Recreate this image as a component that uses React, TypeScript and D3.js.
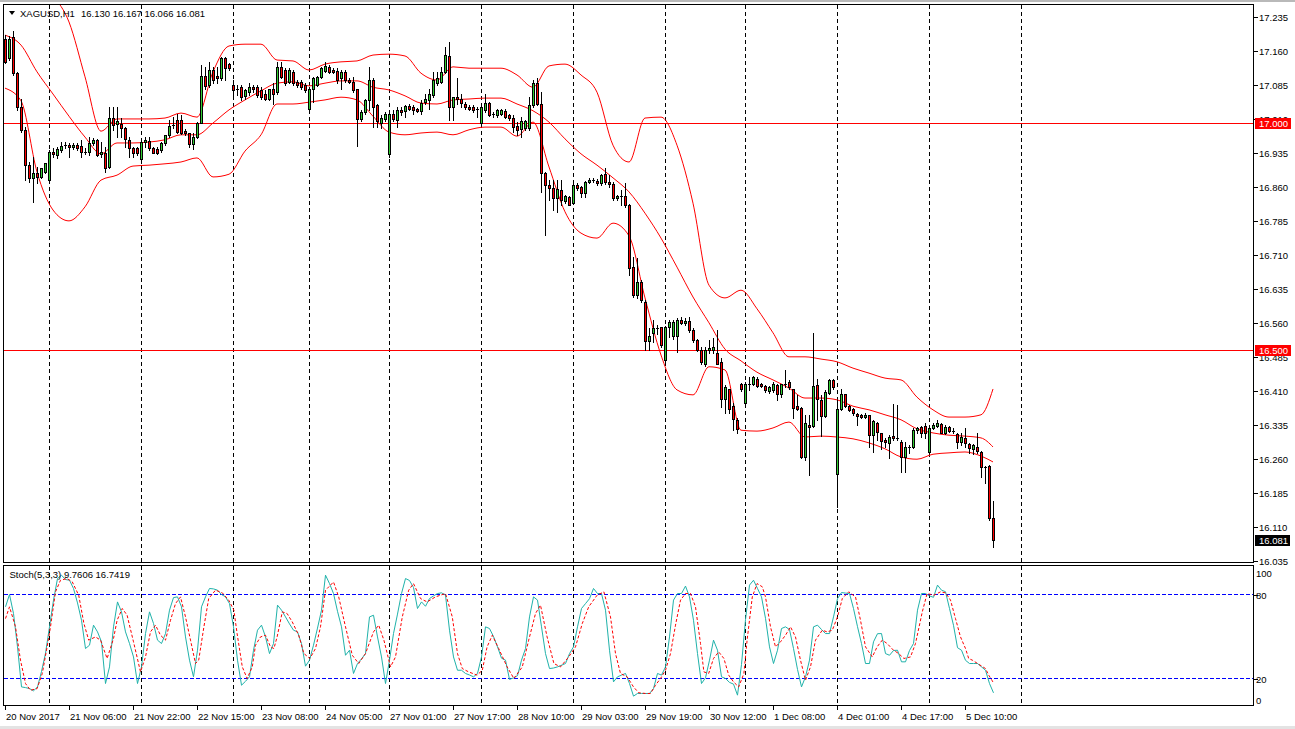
import React from 'react';
import * as d3 from 'd3';

// ---------- DATA ----------
const opens = [17.186,17.144,17.190,17.111,17.037,16.985,16.908,16.879,16.890,16.882,16.893,16.875,16.938,16.930,16.941,16.951,16.952,16.949,16.952,16.951,16.938,16.938,16.957,16.963,16.932,16.934,16.904,17.011,16.999,16.999,16.989,16.963,16.945,16.945,16.921,16.960,16.962,16.945,16.943,16.941,16.956,16.974,16.994,17.008,17.008,16.984,16.978,16.955,16.971,17.002,17.105,17.085,17.118,17.105,17.100,17.144,17.131,17.085,17.075,17.080,17.061,17.070,17.080,17.080,17.074,17.066,17.055,17.077,17.070,17.125,17.118,17.092,17.114,17.092,17.092,17.085,17.033,17.077,17.085,17.103,17.116,17.125,17.118,17.116,17.100,17.114,17.096,17.092,17.075,17.009,17.026,17.052,17.096,17.041,17.002,17.009,16.932,17.022,17.008,17.030,17.028,17.038,17.036,17.031,17.028,17.048,17.052,17.063,17.090,17.092,17.114,17.149,17.036,17.058,17.055,17.044,17.037,17.037,17.031,17.000,17.030,17.046,17.021,17.019,17.022,17.028,17.019,17.011,16.994,16.987,16.989,16.989,17.041,17.089,17.043,16.890,16.864,16.857,16.835,16.853,16.828,16.838,16.825,16.865,16.860,16.847,16.871,16.875,16.873,16.868,16.888,16.871,16.866,16.835,16.840,16.840,16.821,16.684,16.621,16.651,16.606,16.520,16.538,16.548,16.550,16.479,16.551,16.531,16.531,16.566,16.560,16.564,16.545,16.523,16.501,16.470,16.501,16.500,16.493,16.474,16.391,16.413,16.376,16.345,16.425,16.382,16.426,16.425,16.437,16.424,16.421,16.410,16.412,16.423,16.403,16.426,16.430,16.413,16.376,16.371,16.263,16.335,16.332,16.423,16.390,16.354,16.406,16.434,16.226,16.369,16.403,16.376,16.369,16.359,16.356,16.353,16.356,16.312,16.340,16.316,16.302,16.295,16.310,16.305,16.297,16.263,16.287,16.285,16.323,16.331,16.332,16.274,16.327,16.332,16.337,16.317,16.331,16.322,16.315,16.298,16.305,16.292,16.281,16.287,16.276,16.242,16.244,16.130];
const highs = [17.195,17.192,17.203,17.114,17.053,16.993,16.915,16.927,16.905,16.901,16.913,16.941,16.945,16.949,16.960,16.960,16.958,16.956,16.958,16.963,16.945,16.971,16.967,16.965,16.960,16.949,17.037,17.037,17.037,17.011,16.993,16.971,16.949,16.949,16.963,16.971,16.971,16.949,16.949,16.960,16.974,17.008,17.015,17.022,17.019,16.987,16.979,16.978,17.004,17.129,17.125,17.136,17.125,17.125,17.147,17.147,17.134,17.096,17.085,17.085,17.077,17.089,17.085,17.085,17.080,17.074,17.077,17.089,17.136,17.136,17.122,17.122,17.118,17.096,17.096,17.089,17.080,17.103,17.105,17.125,17.136,17.129,17.122,17.122,17.118,17.118,17.100,17.103,17.077,17.030,17.053,17.125,17.100,17.044,17.019,17.026,17.026,17.030,17.037,17.037,17.041,17.044,17.041,17.035,17.052,17.066,17.077,17.114,17.114,17.125,17.169,17.180,17.059,17.100,17.066,17.048,17.041,17.041,17.037,17.037,17.066,17.048,17.026,17.033,17.033,17.031,17.022,17.019,17.004,17.015,17.008,17.059,17.096,17.100,17.070,16.893,16.875,16.875,16.875,16.875,16.843,16.840,16.868,16.868,16.862,16.872,16.879,16.879,16.878,16.889,16.901,16.886,16.870,16.842,16.853,16.868,16.823,16.706,16.702,16.655,16.610,16.548,16.566,16.555,16.551,16.552,16.566,16.566,16.570,16.573,16.570,16.573,16.548,16.525,16.507,16.506,16.522,16.526,16.544,16.482,16.423,16.415,16.382,16.349,16.428,16.430,16.441,16.443,16.440,16.428,16.423,16.420,16.430,16.426,16.426,16.456,16.433,16.415,16.401,16.375,16.356,16.357,16.537,16.437,16.401,16.412,16.435,16.437,16.390,16.413,16.404,16.378,16.371,16.360,16.359,16.360,16.357,16.345,16.342,16.317,16.305,16.312,16.381,16.379,16.301,16.298,16.290,16.327,16.331,16.332,16.338,16.331,16.338,16.345,16.338,16.334,16.333,16.327,16.316,16.317,16.327,16.294,16.292,16.316,16.278,16.244,16.246,16.167];
const lows = [17.133,17.140,17.107,17.030,16.982,16.875,16.871,16.827,16.868,16.879,16.890,16.871,16.927,16.923,16.938,16.945,16.927,16.943,16.941,16.927,16.932,16.930,16.952,16.928,16.927,16.893,16.901,16.985,16.971,16.971,16.949,16.927,16.927,16.930,16.912,16.949,16.941,16.934,16.932,16.938,16.952,16.971,16.989,16.978,16.977,16.974,16.949,16.943,16.967,17.000,17.077,17.081,17.089,17.089,17.096,17.096,17.118,17.063,17.063,17.052,17.055,17.063,17.070,17.059,17.055,17.052,17.052,17.044,17.066,17.100,17.085,17.089,17.085,17.081,17.075,17.070,17.031,17.048,17.083,17.100,17.114,17.112,17.111,17.089,17.077,17.092,17.089,17.070,16.951,17.006,17.022,17.030,16.993,16.993,16.989,17.006,16.927,17.006,16.993,17.019,17.015,17.030,17.022,17.026,17.022,17.044,17.033,17.059,17.085,17.089,17.111,17.008,17.008,17.044,17.037,17.033,17.030,17.026,17.015,16.996,17.026,17.016,17.015,17.015,17.019,17.013,17.008,16.982,16.974,16.971,16.985,16.985,17.037,17.041,16.849,16.754,16.831,16.809,16.805,16.820,16.825,16.820,16.823,16.854,16.838,16.837,16.868,16.870,16.865,16.865,16.866,16.860,16.831,16.830,16.820,16.816,16.665,16.618,16.614,16.606,16.500,16.500,16.518,16.535,16.507,16.475,16.529,16.525,16.496,16.557,16.555,16.540,16.518,16.497,16.470,16.465,16.493,16.493,16.470,16.375,16.360,16.360,16.323,16.316,16.410,16.381,16.412,16.423,16.418,16.418,16.408,16.406,16.408,16.390,16.397,16.418,16.415,16.349,16.367,16.261,16.257,16.224,16.331,16.345,16.310,16.353,16.404,16.415,16.154,16.367,16.375,16.365,16.357,16.334,16.350,16.349,16.287,16.276,16.301,16.281,16.287,16.261,16.301,16.301,16.231,16.231,16.272,16.283,16.316,16.309,16.305,16.272,16.325,16.331,16.316,16.315,16.320,16.316,16.283,16.290,16.287,16.272,16.270,16.272,16.220,16.207,16.125,16.066];
const closes = [17.136,17.186,17.111,17.037,16.985,16.908,16.879,16.890,16.882,16.901,16.913,16.938,16.932,16.943,16.951,16.952,16.949,16.952,16.945,16.938,16.935,16.957,16.963,16.930,16.937,16.901,17.011,16.997,17.006,16.989,16.965,16.945,16.934,16.934,16.960,16.963,16.945,16.935,16.935,16.956,16.974,16.994,16.997,16.982,16.978,16.978,16.955,16.971,17.002,17.105,17.083,17.118,17.096,17.100,17.144,17.122,17.122,17.074,17.077,17.059,17.074,17.080,17.077,17.063,17.059,17.055,17.075,17.066,17.125,17.103,17.089,17.118,17.089,17.085,17.080,17.074,17.077,17.100,17.102,17.122,17.127,17.114,17.114,17.096,17.114,17.096,17.092,17.074,17.009,17.026,17.052,17.096,17.037,17.006,17.013,17.021,17.021,17.009,17.030,17.026,17.038,17.033,17.030,17.028,17.046,17.053,17.065,17.097,17.100,17.114,17.151,17.037,17.058,17.053,17.046,17.036,17.033,17.030,17.030,17.036,17.046,17.019,17.018,17.030,17.030,17.015,17.011,16.993,16.985,17.006,17.006,17.041,17.089,17.044,16.891,16.864,16.857,16.835,16.855,16.831,16.839,16.820,16.865,16.857,16.847,16.871,16.875,16.872,16.868,16.886,16.870,16.866,16.835,16.840,16.838,16.820,16.682,16.621,16.651,16.610,16.520,16.531,16.548,16.546,16.511,16.550,16.562,16.562,16.566,16.559,16.564,16.544,16.522,16.500,16.474,16.501,16.505,16.506,16.470,16.391,16.418,16.369,16.347,16.325,16.413,16.426,16.423,16.440,16.421,16.421,16.412,16.418,16.425,16.403,16.426,16.423,16.418,16.373,16.369,16.263,16.338,16.331,16.421,16.391,16.354,16.408,16.434,16.418,16.369,16.402,16.376,16.368,16.360,16.354,16.353,16.356,16.312,16.344,16.318,16.300,16.298,16.309,16.305,16.303,16.264,16.287,16.286,16.323,16.327,16.317,16.317,16.327,16.334,16.338,16.317,16.331,16.322,16.320,16.298,16.307,16.294,16.283,16.290,16.278,16.242,16.239,16.130,16.081];

// Bollinger Bands (20,2) at every 4th bar
const bandBars = [0,4,8,12,16,20,24,28,32,36,40,44,48,52,56,60,64,68,72,76,80,84,88,92,96,100,104,108,112,116,120,124,128,132,136,140,144,148,152,156,160,164,168,172,176,180,184,188,192,196,200,204,208,212,216,220,224,228,232,236,240,244,247];
const bandUpper = [17.312,17.295,17.334,17.284,17.224,17.103,16.983,17.010,17.010,17.010,17.012,17.023,17.014,17.114,17.171,17.175,17.175,17.140,17.138,17.118,17.131,17.136,17.138,17.151,17.153,17.149,17.111,17.096,17.125,17.122,17.122,17.122,17.107,17.080,17.127,17.131,17.107,17.069,16.952,16.915,17.012,17.014,16.952,16.824,16.643,16.615,16.632,16.591,16.538,16.485,16.485,16.480,16.474,16.460,16.449,16.438,16.434,16.396,16.368,16.352,16.352,16.357,16.414];
const bandMiddle = [17.195,17.173,17.114,17.065,17.016,16.970,16.933,16.957,16.957,16.959,16.964,16.975,16.975,17.001,17.030,17.052,17.072,17.089,17.092,17.083,17.089,17.094,17.094,17.080,17.074,17.061,17.045,17.043,17.052,17.054,17.056,17.056,17.043,17.028,17.003,16.966,16.933,16.908,16.880,16.849,16.802,16.747,16.683,16.617,16.560,16.502,16.476,16.451,16.434,16.416,16.394,16.394,16.390,16.376,16.368,16.357,16.346,16.326,16.317,16.312,16.310,16.306,16.286];
const bandLower = [17.078,17.050,16.893,16.809,16.785,16.816,16.875,16.886,16.906,16.908,16.911,16.915,16.924,16.882,16.888,16.939,16.975,17.043,17.043,17.047,17.052,17.058,17.052,17.016,16.981,16.975,16.979,16.981,16.975,16.986,16.992,16.992,16.972,17.003,16.904,16.805,16.758,16.747,16.780,16.752,16.615,16.489,16.412,16.401,16.463,16.456,16.323,16.321,16.328,16.341,16.308,16.310,16.308,16.304,16.295,16.282,16.264,16.259,16.270,16.273,16.275,16.266,16.253];

// Stochastic (5,3,3) main line, one value per bar
const stochMain = [71.2,80.0,66.4,42.6,14.0,13.5,12.8,11.2,14.0,25,38,56.9,76.0,91.4,93.8,90.7,90.2,84.3,74,61.6,41.4,43.8,58.1,53.3,46.2,16.4,28.3,56.9,74.7,67.6,53.3,45,35.4,16.4,28.3,52.1,67.6,59.3,47.4,45.0,52.1,68.8,77.8,78.3,71.2,49.7,33.1,21.2,40.2,71.2,78.3,84.3,84,83.1,80,78.3,73.5,56.9,33.1,15.2,18,21.2,40.2,54.5,58.1,49.7,37.8,45.0,72.4,68.8,64.0,59,54.5,53.3,45.0,28.8,33.1,43.8,56,68.8,93.8,87.8,80.7,68,56.9,36.6,40.2,23.6,30.7,34,37.8,64.0,65.2,49.7,35.4,16.4,33.1,52.1,66,80.7,91.4,90,85,70.0,74.7,71.6,77.1,79,80.7,81.2,79.5,54.5,35.4,25.9,25.9,23.6,22.5,21.2,23.6,35.4,56.9,55.7,50,42.6,34.5,33.1,19.3,20.5,22,33.1,41.4,64.0,78.3,76.0,56.9,37.8,27.1,27.5,28.3,29.5,30.7,37.8,42.6,56.9,70.0,73.5,77,84.3,80.7,80.7,68.8,40.2,17.6,21.2,22.4,23.6,16.4,7.4,9.3,9.3,9.3,9.3,12.8,23.6,22.4,28.3,49.7,76.0,80.7,80.7,86,78.3,61.6,37.8,16.4,20.5,33.1,47.4,40.2,21.2,20.0,17.2,16.0,8.1,30,62,86.7,90.2,84.3,78.3,63,42.6,30.7,40.2,55.7,56.9,55,41.4,26.5,14,21.2,33.1,56.9,58.1,55,52.1,52.1,64,77,81.4,81,80.7,70,57,45,30.7,30.7,46.2,52,52.1,37.8,36.6,40,40.2,31.9,31.9,40,45.0,68.8,80.7,80.7,79,78,86.7,83.1,82,70,58,42,40.2,33,30.7,30.7,30.7,28.3,25.9,16.4,9.76];

// Stochastic signal line, read at its vertices (bar position, value)
const signalBars = [0,1,2.5,3.75,5,6.25,7.9,9.2,10.4,11.25,12.5,13.75,15.4,16.7,18.3,19.6,20.8,22.5,23.75,25.4,27,27.9,29.2,30.4,32,33.75,35,36.25,37.5,38.75,40,41.25,42.5,43.75,45,46.25,47.5,48.3,49.6,50.8,52.5,54.2,55.8,57.1,57.9,59.2,60.4,61.7,62.5,63.75,65,66.25,67.1,67.9,69.2,70.4,71.7,73.3,74.6,76.1,77.5,78.75,80,81.25,82,83.3,85,86.7,88.3,90,92,93.3,94.6,96.25,97.5,99.2,100.8,102,103.75,105.4,107.5,110,111.7,113,114.2,115.8,117.9,119.2,120.4,121.7,123.3,125.4,127.1,129.2,130.8,132.5,133.75,135.4,137.1,138.75,140.8,142.5,144.2,145.8,147.9,149.6,151.25,152.5,153.75,155.4,157,158.3,160,161.25,162.5,163.75,165,166.25,167.5,168.75,170,171.25,172.5,173.75,174.6,175.8,177,178.3,179.6,180.8,182,183.3,184.6,185.4,186.7,187.9,189.2,190,191.25,192.5,193.75,195,196.25,197.5,198.75,200,201.25,202.5,204.2,205.4,206.7,208,209.2,210.8,212.5,213.75,215,216.7,217.9,219.2,220.4,222,223.3,224.6,226.25,227.5,229.2,230.4,232.1,233.75,235,236.25,237.5,238.75,240,240.8,241.7,243.3,245,245.8,246.7,247];
const signalValues = [62.8,71.2,56.9,33.1,16.4,11.6,12.8,23.6,42.6,56.9,81.9,90.2,91.4,89.0,79.5,59.3,47.4,49.7,47.4,34.3,48.5,61.6,70.0,65.2,46.2,24.7,35.4,53.3,58.1,50.9,47.4,61.6,73.5,78.3,64.0,47.4,30.7,33.1,56.9,77.1,83.1,81.2,76.0,68.8,52.1,28.3,20.0,28.3,43.8,49.7,50.9,42.6,41.4,49.7,67.6,66.4,60.4,50.9,37.8,34.3,41.4,56.9,83.1,86.7,89.0,78.3,56.9,36.6,30.7,37.8,53.3,58.1,47.4,28.3,35.4,64.0,83.1,87.8,77.1,74.7,78.3,80.7,64.0,37.8,27.1,24.7,22.4,25.9,42.6,50.9,41.4,28.3,20.0,28.3,47.4,66.4,72.4,49.7,30.7,28.3,35.4,42.6,59.3,71.2,79.5,81.9,64.0,37.8,23.6,21.2,14.0,9.8,9.3,9.3,15.2,20.0,25.9,37.8,58.1,76.0,80.7,80.7,71.2,45.0,24.7,23.6,34.3,39.0,34.3,22.4,17.6,14.0,23.6,47.4,78.3,87.8,85.5,78.3,56.9,42.6,46.2,50.9,56.9,49.7,33.1,18.8,28.3,47.4,54.5,53.3,54.5,64.0,77.1,81.9,78.3,61.6,42.6,35.4,42.6,47.4,45.0,40.2,37.8,34.3,35.4,45.0,67.6,80.7,79.5,81.9,81.2,76.0,62.8,49.7,41.4,34.3,33.1,30.2,27.1,22.4,18.3,16.74];

const priceTicks = [17.235,17.160,17.085,17.010,16.935,16.860,16.785,16.710,16.635,16.560,16.485,16.410,16.335,16.260,16.185,16.110,16.035];
const timeLabels = ['20 Nov 2017','21 Nov 06:00','21 Nov 22:00','22 Nov 15:00','23 Nov 08:00','24 Nov 05:00','27 Nov 01:00','27 Nov 17:00','28 Nov 10:00','29 Nov 03:00','29 Nov 19:00','30 Nov 12:00','1 Dec 08:00','4 Dec 01:00','4 Dec 17:00','5 Dec 10:00'];
const timeLabelBars = [0,16,32,48,64,80,96,112,128,144,160,176,192,208,224,240];
const daySeparatorBars = [11,34,57,76,96,119,142,165,185,208,231,254];
const levelLines = [17.0, 16.5];
const stochLevels = [80, 20];
const stochAxis = [100, 80, 20, 0];
const lastPrice = 16.081;

const FONT = "'Liberation Sans', Arial, sans-serif";
const BULL = '#32cd32';
const BEAR = '#ff0000';

export default function App() {
  const x = d3.scaleLinear().domain([0, 247]).range([5, 993]);
  const y = d3.scaleLinear().domain([16.035, 17.235]).range([560.7, 17]);
  const ys = d3.scaleLinear().domain([0, 100]).range([706.5, 566.5]);

  const L = 3.5, R = 1253.5, T1 = 4.5, B1 = 562.5, T2 = 565.5, B2 = 705.5;

  const bandLine = d3.line<number>()
    .x((_, i) => x(bandBars[i]))
    .y((d) => y(d))
    .curve(d3.curveMonotoneX);
  const mainLine = d3.line<number>().x((_, i) => x(i) + 0.5).y((d) => ys(d));
  const sigLine = d3.line<number>().x((_, i) => x(signalBars[i]) + 0.5).y((d) => ys(d));

  const candles = opens.map((o, i) => {
    const c = closes[i];
    const cx = Math.round(x(i));
    const top = Math.round(y(Math.max(o, c)));
    const bot = Math.round(y(Math.min(o, c)));
    const hy = Math.round(y(highs[i]));
    const ly = Math.round(y(lows[i]));
    return (
      <g key={i}>
        <line x1={cx + 0.5} x2={cx + 0.5} y1={hy} y2={ly + 1} stroke="#000" strokeWidth={1} />
        {bot - top < 2 ? (
          <line x1={cx - 1} x2={cx + 2} y1={top + 0.5} y2={top + 0.5} stroke="#000" strokeWidth={1} />
        ) : (
          <rect x={cx - 0.5} y={top + 0.5} width={2} height={bot - top} fill={c >= o ? BULL : BEAR} stroke="#000" strokeWidth={1} />
        )}
      </g>
    );
  });

  return (
    <svg width={1295} height={729} style={{ position: 'absolute', left: 0, top: 0, background: '#fff' }} fontFamily={FONT}>
      <defs>
        <clipPath id="mainClip"><rect x={4} y={5} width={1249} height={557} /></clipPath>
        <clipPath id="subClip"><rect x={4} y={566} width={1249} height={139} /></clipPath>
      </defs>
      <rect x={0} y={0} width={1295} height={729} fill="#fff" />
      <rect x={0} y={0} width={1295} height={2} fill="#b9b9b9" />
      <rect x={0} y={726} width={1295} height={3} fill="#e3e3e3" />

      {/* main panel */}
      <g clipPath="url(#mainClip)" shapeRendering="crispEdges">
        {daySeparatorBars.map((b) => (
          <line key={b} x1={Math.round(x(b)) + 0.5} x2={Math.round(x(b)) + 0.5} y1={T1} y2={B1} stroke="#000" strokeDasharray="4,3" />
        ))}
        {levelLines.map((v) => (
          <line key={v} x1={L} x2={R} y1={Math.round(y(v)) + 0.5} y2={Math.round(y(v)) + 0.5} stroke="#ff0000" />
        ))}
      </g>
      <g clipPath="url(#mainClip)">
        <path d={bandLine(bandUpper) || ''} fill="none" stroke="#ff0000" strokeWidth={1} />
        <path d={bandLine(bandMiddle) || ''} fill="none" stroke="#ff0000" strokeWidth={1} />
        <path d={bandLine(bandLower) || ''} fill="none" stroke="#ff0000" strokeWidth={1} />
      </g>
      <g clipPath="url(#mainClip)" shapeRendering="crispEdges">{candles}</g>

      {/* header */}
      <path d="M9,11 L15,11 L12,15 Z" fill="#000" />
      <text x={20} y={16.5} fontSize={9.5} fill="#000">XAGUSD,H1</text>
      <text x={81} y={16.5} fontSize={9.5} fill="#000">16.130 16.167 16.066 16.081</text>

      {/* sub panel */}
      <g clipPath="url(#subClip)" shapeRendering="crispEdges">
        {daySeparatorBars.map((b) => (
          <line key={b} x1={Math.round(x(b)) + 0.5} x2={Math.round(x(b)) + 0.5} y1={T2} y2={B2} stroke="#000" strokeDasharray="4,3" />
        ))}
        {stochLevels.map((v) => (
          <line key={v} x1={L} x2={R} y1={ys(v)} y2={ys(v)} stroke="#0000ff" strokeDasharray="4,2" />
        ))}
      </g>
      <g clipPath="url(#subClip)">
        <path d={mainLine(stochMain) || ''} fill="none" stroke="#20b2aa" strokeWidth={1} />
        <path d={sigLine(signalValues) || ''} fill="none" stroke="#ff0000" strokeWidth={1} strokeDasharray="3,2" />
      </g>
      <text x={9.5} y={578} fontSize={9.5} fill="#000">Stoch(5,3,3) 9.7606 16.7419</text>

      {/* frames */}
      <g shapeRendering="crispEdges" fill="none" stroke="#000">
        <rect x={L} y={T1} width={R - L} height={B1 - T1} />
        <rect x={L} y={T2} width={R - L} height={B2 - T2} />
      </g>

      {/* price axis */}
      <g fontSize={9.5} fill="#000" shapeRendering="crispEdges">
        {priceTicks.map((v) => {
          const py = Math.round(y(v)) + 0.5;
          return (
            <g key={v}>
              <line x1={R} x2={R + 4} y1={py} y2={py} stroke="#000" />
              <text x={1259} y={py + 3.5}>{v.toFixed(3)}</text>
            </g>
          );
        })}
        {levelLines.map((v) => {
          const py = Math.round(y(v));
          return (
            <g key={v}>
              <rect x={1255} y={py - 5.5} width={36} height={11} fill="#ff0000" />
              <text x={1259} y={py + 3.5} fill="#fff">{v.toFixed(3)}</text>
            </g>
          );
        })}
        <rect x={1255} y={Math.round(y(lastPrice)) - 5.5} width={35} height={11} fill="#000" />
        <text x={1259} y={Math.round(y(lastPrice)) + 3.5} fill="#fff">{lastPrice.toFixed(3)}</text>
      </g>

      {/* stoch axis */}
      <g fontSize={9.5} fill="#000" shapeRendering="crispEdges">
        {stochAxis.map((v) => {
          const py = Math.round(ys(v)) + 0.5;
          const ty = v === 100 ? py + 9 : v === 0 ? py - 4 : py + 3.5;
          return (
            <g key={v}>
              {v !== 100 && v !== 0 && <line x1={R} x2={R + 4} y1={py} y2={py} stroke="#000" />}
              <text x={1256} y={ty}>{v}</text>
            </g>
          );
        })}
      </g>

      {/* time axis */}
      <g fontSize={9.5} fill="#000" shapeRendering="crispEdges">
        {timeLabelBars.map((b, i) => {
          const tx = Math.round(x(b)) + 0.5;
          return (
            <g key={b}>
              <line x1={tx} x2={tx} y1={B2} y2={B2 + 4} stroke="#000" />
              <text x={tx + 0.5} y={719.5}>{timeLabels[i]}</text>
            </g>
          );
        })}
      </g>
    </svg>
  );
}
